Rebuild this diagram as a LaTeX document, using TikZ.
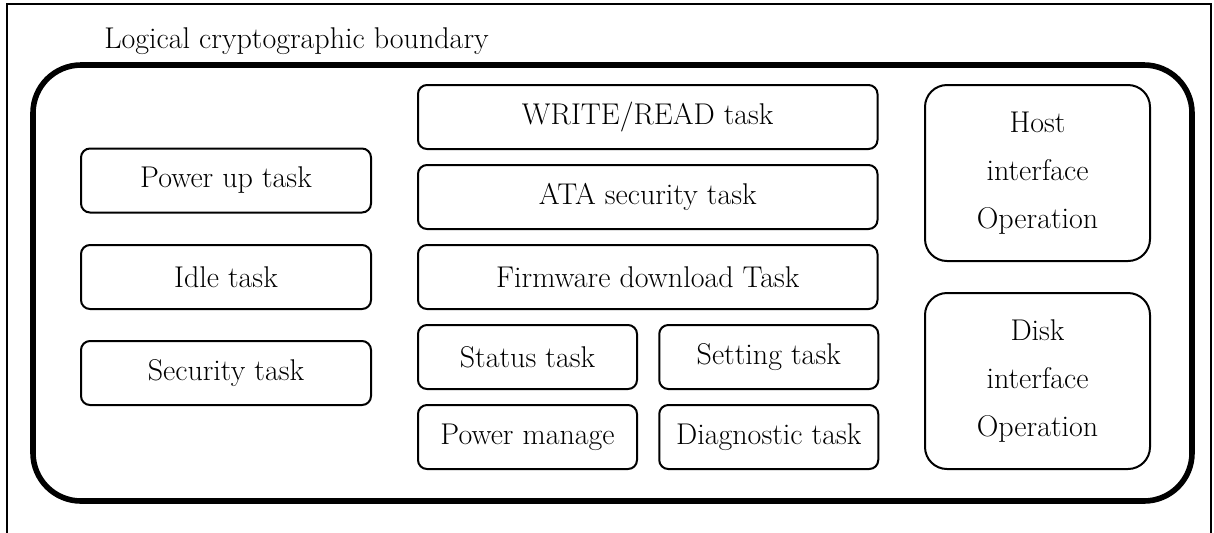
\documentclass[tikz,border=0pt]{standalone}
\begin{document}
\begin{tikzpicture}[x=0.5pt,y=-0.5pt,
  txt/.style={font=\fontsize{15pt}{24pt}\selectfont},
  taskbox/.style={draw, line width=1pt, rounded corners=4.5pt, inner sep=0pt, align=center, txt},
  ifbox/.style={draw, line width=1pt, rounded corners=11pt, inner sep=0pt, align=center, txt,
    minimum width=112.5pt, minimum height=88pt},
  leftbox/.style={taskbox, minimum width=145pt, minimum height=32pt},
  widebox/.style={taskbox, minimum width=229.75pt, minimum height=32pt},
  halfbox/.style={taskbox, minimum width=109.5pt, minimum height=32pt}]
\useasboundingbox (0,0) rectangle (1214,532);
\clip (0,0) rectangle (1214,532);
% outer frame
\draw[line width=0.75pt] (7,540) -- (7,4) -- (1211,4) -- (1211,540);
% label
\node[txt, anchor=base west, inner sep=0pt] (lbl) at (104,48) {Logical cryptographic boundary};
% boundary
\draw[line width=2.8pt, rounded corners=24pt] (33,65) rectangle (1192,501);
% left column
\node[leftbox] (pwr) at (226,180.5) {Power up task};
\node[leftbox] (idle) at (226,277) {Idle task};
\node[leftbox] (sec) at (226,373) {Security task};
% middle column
\node[widebox] (wr) at (647.75,117) {WRITE/READ task};
\node[widebox] (ata) at (647.75,197) {ATA security task};
\node[widebox] (fw) at (647.75,277) {Firmware download Task};
\node[halfbox] (st) at (527.5,357) {Status task};
\node[halfbox] (set) at (768.75,357) {Setting task};
\node[halfbox] (pm) at (527.5,437) {Power manage};
\node[halfbox] (diag) at (768.75,437) {Diagnostic task};
% right column
\node[ifbox] (host) at (1037.5,173) {Host\\interface\\Operation};
\node[ifbox] (disk) at (1037.5,381) {Disk\\interface\\Operation};
\end{tikzpicture}
\end{document}
